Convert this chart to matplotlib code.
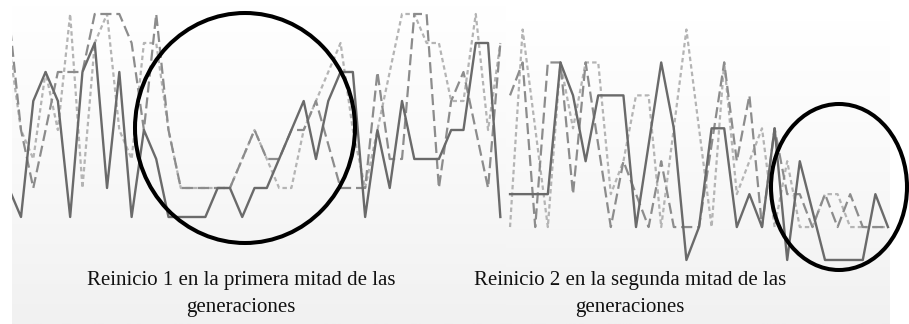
import numpy as np
import matplotlib
matplotlib.use("Agg")
import matplotlib.pyplot as plt
from matplotlib.patches import Ellipse

# ---------------- data ----------------
# Panel 1: restart in the first half of the generations
gen1 = list(range(41))
best1 = [1,0,4,5,4,0,5,6,1,5,0,3,2,0,0,0,0,1,1,0,1,1,2,3,4,2,4,5,5,0,3,1,4,2,2,2,3,3,6,6,0]
avg1 = [7,3,1,3,5,5,5,7,7,7,6,3,7,3,1,1,1,1,1,2,3,2,2,3,3,4,2.5,1,1,1,5,2,2,7,7,1,4,5,3,1,6]
worst1 = [6,3,2,5,3,7,1,6,7,3,2,6,6,3,1,1,1,1,1,2,3,2,1,1,3,4,5,6,3,1,3,5,7,7,6,6,4,4,7,3,6]

# Panel 2: restart in the second half of the generations
gen2 = list(range(31))
best2 = [2,2,2,2,6,5,3,5,5,5,1,3.5,6,4,0,1,4,4,1,2,1,4,0,3,1.5,0,0,0,0,2,1]
avg2 = [5,6,1,6,6,2,6,3.5,1,3,2,1,3,1,1,1,3.5,6,3,5,1,4,2,2,1,2,1,2,1,1,1]
worst2 = [1,7,4,1,6,4,6,6,2,3,5,5,1,4,7,4,1,6,2,3,4,1,3,1,1,2,2,1,1,1,1]

captions = ["Reinicio 1 en la primera mitad de las\ngeneraciones",
            "Reinicio 2 en la segunda mitad de las\ngeneraciones"]

# ---------------- figure ----------------
W, H, DPI = 909, 324, 100
fig = plt.figure(figsize=(W / DPI, H / DPI), dpi=DPI)
fig.patch.set_facecolor("white")


def px_axes(x0, y0, x1, y1):
    """axes from pixel box (image coords, y down)"""
    return fig.add_axes([x0 / W, 1 - y1 / H, (x1 - x0) / W, (y1 - y0) / H])


def gradient(ax, xlim, ylim):
    g = np.linspace(0, 1, 256).reshape(-1, 1)
    cmap = matplotlib.colors.LinearSegmentedColormap.from_list(
        "g", ["#ffffff", "#f9f9f9", "#f1f1f1"])
    ax.imshow(g, aspect="auto", cmap=cmap, extent=(xlim[0], xlim[1], ylim[0], ylim[1]),
              origin="upper", zorder=0)


def draw_panel(ax, x, best, avg, worst, xlim, ylim):
    gradient(ax, xlim, ylim)
    ax.set_xlim(*xlim)
    ax.set_ylim(*ylim)
    ax.plot(x, worst, color="#b4b4b4", lw=1.6, ls=(0, (2.0, 1.4)), zorder=2)
    ax.plot(x, avg, color="#8c8c8c", lw=1.6, ls=(0, (5.0, 2.2)), zorder=3)
    ax.plot(x, best, color="#6a6a6a", lw=1.7, zorder=4)
    ax.axis("off")


ax1 = px_axes(12, 5, 506, 324)
draw_panel(ax1, gen1, best1, avg1, worst1, (0.268, 40.46), (-3.69, 7.31))

ax2 = px_axes(506, 20, 890, 324)
draw_panel(ax2, gen2, best2, avg2, worst2, (-0.32, 30.16), (-1.945, 7.29))

# overlay for circles and captions
ov = fig.add_axes([0, 0, 1, 1])
ov.set_xlim(0, W)
ov.set_ylim(H, 0)
ov.axis("off")
ov.patch.set_alpha(0)
ov.add_patch(Ellipse((245, 128), 220, 230, fill=False, ec="black", lw=2.9, zorder=10))
ov.add_patch(Ellipse((839, 187), 136, 166, fill=False, ec="black", lw=2.9, zorder=10))

ov.text(241, 271, captions[0], ha="center", va="top", fontsize=15,
        family="Liberation Serif", linespacing=1.6, color="#111111")
ov.text(630, 271, captions[1], ha="center", va="top", fontsize=15,
        family="Liberation Serif", linespacing=1.6, color="#111111")

fig.savefig("out.png", dpi=DPI)
